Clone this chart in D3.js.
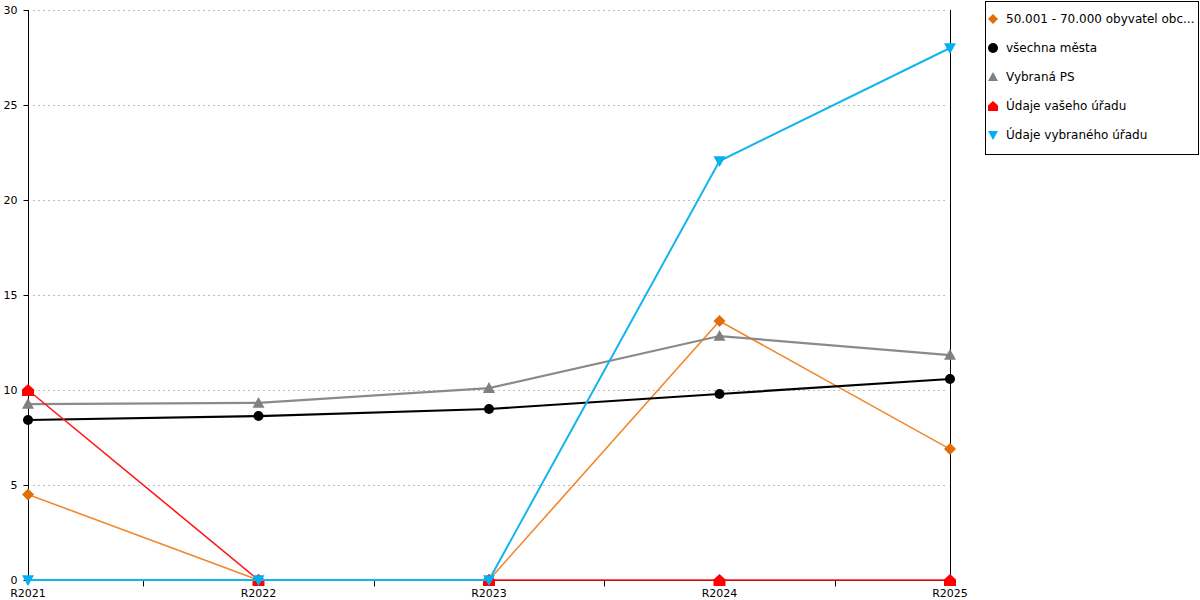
<!DOCTYPE html>
<html><head><meta charset="utf-8">
<script src="https://cdn.jsdelivr.net/npm/d3@7"></script>
<style>body{margin:0;background:#fff}svg{display:block}text{font-family:"DejaVu Sans",sans-serif;}</style>
</head><body>
<script>
const categories = ["R2021","R2022","R2023","R2024","R2025"];
const seriesNames = ["50.001 - 70.000 obyvatel obc...","všechna města","Vybraná PS","Údaje vašeho úřadu","Údaje vybraného úřadu"];
const orangeVals = [4.5, 0, 0, 13.63, 6.89];
const blackVals = [8.42, 8.63, 9.0, 9.79, 10.58];
const grayVals = [9.26, 9.32, 10.1, 12.84, 11.84];
const redVals = [10, 0, 0, 0, 0];
const blueVals = [0, 0, 0, 22.05, 28];
const yTicks = [0,5,10,15,20,25,30];

const series = [
  {name: seriesNames[0], vals: orangeVals, line:"#F0882E", marker:"#E36C0A", w:1.6, sym:"diamond"},
  {name: seriesNames[1], vals: blackVals, line:"#000", marker:"#000", w:2.2, sym:"circle"},
  {name: seriesNames[2], vals: grayVals, line:"#8a8a8a", marker:"#808080", w:2.2, sym:"triangle"},
  {name: seriesNames[3], vals: redVals, line:"#FF1A1A", marker:"#FF0000", w:1.6, sym:"house"},
  {name: seriesNames[4], vals: blueVals, line:"#14B4EE", marker:"#00B0F0", w:2, sym:"down"}
];

const W=1200,H=600;
const svg=d3.select("body").append("svg").attr("width",W).attr("height",H);
const x=d3.scalePoint().domain(categories).range([28,950]);
const y=d3.scaleLinear().domain([0,30]).range([580,10]);

// grid
svg.append("g").selectAll("line").data(yTicks.filter(d=>d>0)).join("line")
  .attr("x1",33).attr("x2",948).attr("y1",d=>y(d)+0.5).attr("y2",d=>y(d)+0.5)
  .attr("stroke","#bdbdbd").attr("stroke-dasharray","2,3");

// y axis
const ya=svg.append("g").attr("transform","translate(28.5,0)")
  .call(d3.axisLeft(y).tickValues(yTicks).tickSize(5).tickPadding(6).tickFormat(d3.format("d")));
ya.select(".domain").attr("d","M0,"+y(30)+"V"+y(0));
ya.selectAll("text").attr("font-size",11).attr("fill","#000").attr("font-family","DejaVu Sans");

// right vertical line
svg.append("line").attr("x1",950.5).attr("x2",950.5).attr("y1",y(30)).attr("y2",y(0)).attr("stroke","#000");

// x axis
const step=x.step();
const mids=categories.slice(0,-1).map(c=>x(c)+step/2);
const xa=svg.append("g").attr("transform","translate(0,580.5)");
xa.append("line").attr("x1",28).attr("x2",950).attr("stroke","#000");
xa.selectAll("line.t").data(mids).join("line").attr("class","t")
  .attr("x1",d=>Math.round(d)+0.5).attr("x2",d=>Math.round(d)+0.5).attr("y1",0).attr("y2",6).attr("stroke","#000");
xa.selectAll("text").data(categories).join("text")
  .attr("x",d=>x(d)).attr("y",16).attr("text-anchor","middle").attr("font-size",11).text(d=>d);

function sym(type,size){
  const s=size;
  if(type==="diamond") return `M0,${-s}L${s},0L0,${s}L${-s},0Z`;
  if(type==="circle") return d3.symbol(d3.symbolCircle, Math.PI*s*s)();
  if(type==="triangle") return `M0,${-s}L${s},${s*0.8}L${-s},${s*0.8}Z`;
  if(type==="down") return `M${-s},${-s*0.8}L${s},${-s*0.8}L0,${s}Z`;
  if(type==="house") return `M0,${-s}L${s},${-s*0.1}L${s},${s}L${-s},${s}L${-s},${-s*0.1}Z`;
}

const line=d3.line().x((d,i)=>x(categories[i])).y(d=>y(d));
series.forEach(s=>{
  const g=svg.append("g");
  g.append("path").attr("d",line(s.vals)).attr("fill","none").attr("stroke",s.line).attr("stroke-width",s.w);
  g.selectAll("path.m").data(s.vals).join("path").attr("class","m")
    .attr("transform",(d,i)=>`translate(${x(categories[i])},${y(d)})`)
    .attr("d",sym(s.sym, s.sym==="circle"?5:6)).attr("fill",s.marker);
});

// legend
const lg=svg.append("g");
lg.append("rect").attr("x",985.5).attr("y",1.5).attr("width",213).attr("height",153).attr("fill","#fff").attr("stroke","#000");
series.forEach((s,i)=>{
  const cy=19+i*29;
  lg.append("path").attr("transform",`translate(993,${cy})`).attr("d",sym(s.sym,5)).attr("fill",s.marker);
  lg.append("text").attr("x",1006).attr("y",cy+4).attr("font-size",12).text(s.name);
});
</script>
</body></html>
